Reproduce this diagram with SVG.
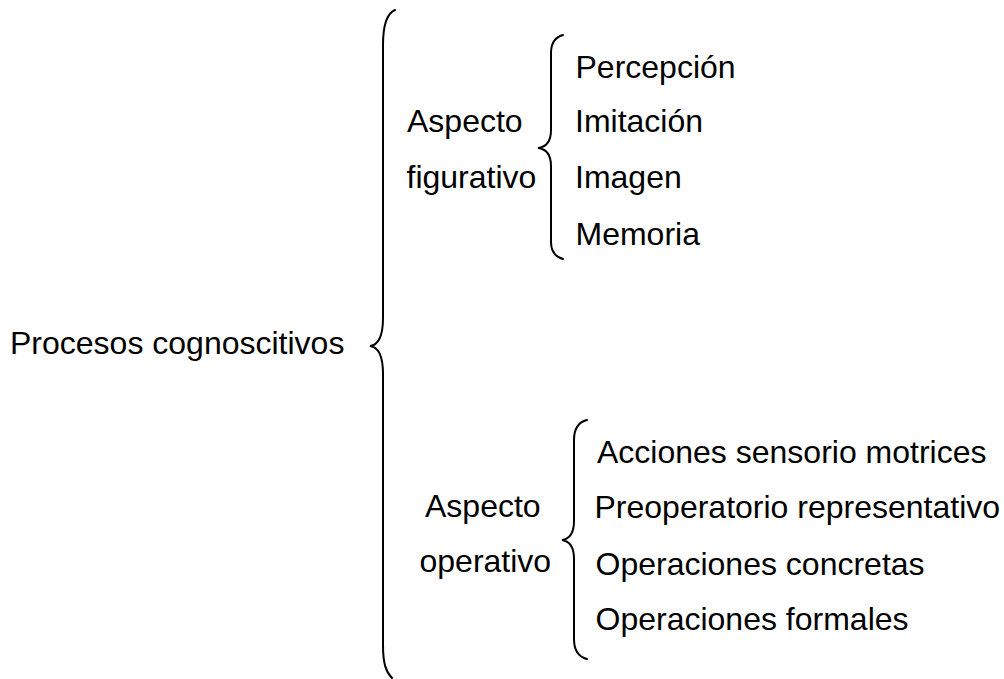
<svg xmlns="http://www.w3.org/2000/svg" width="1004" height="679" viewBox="0 0 1004 679">
<style>
text { font-family: "Liberation Sans", Arial, sans-serif; font-size: 32px; fill: #000; }
.brace { fill: none; stroke: #000; stroke-width: 2; stroke-linecap: round; }
</style>
<rect width="1004" height="679" fill="#fff"/>
<g id="root"><text x="10" y="354">Procesos cognoscitivos</text></g>
<g id="figurativo"><text x="407" y="132">Aspecto</text><text x="406.5" y="188">figurativo</text></g>
<g id="operativo"><text x="425" y="517">Aspecto</text><text x="419.5" y="572">operativo</text></g>
<g id="fig-items">
<text x="575.5" y="78">Percepción</text>
<text x="575" y="132">Imitación</text>
<text x="575" y="188">Imagen</text>
<text x="575.5" y="245">Memoria</text>
</g>
<g id="op-items">
<text x="597" y="463">Acciones sensorio motrices</text>
<text x="594.5" y="518">Preoperatorio representativo</text>
<text x="595.5" y="575">Operaciones concretas</text>
<text x="595.5" y="630">Operaciones formales</text>
</g>
<g id="connectors">
<path class="brace" d="M395,10 C388,13 383,24 383,45 L383,318 C383,336 378,345 370,346 C378,347 383,356 383,374 L383,645 C383,664 386,672 392,678"/>
<path class="brace" d="M563,35 C556,37 551,43 551,53 L551,130 C551,141 546,147 538,148 C546,149 551,155 551,166 L551,242 C551,252 556,257 563,259"/>
<path class="brace" d="M587,420 C579,422 574,429 574,440 L574,521 C574,533 569,539 562,540 C569,541 574,547 574,559 L574,639 C574,650 579,657 587,659"/>
</g>
</svg>
